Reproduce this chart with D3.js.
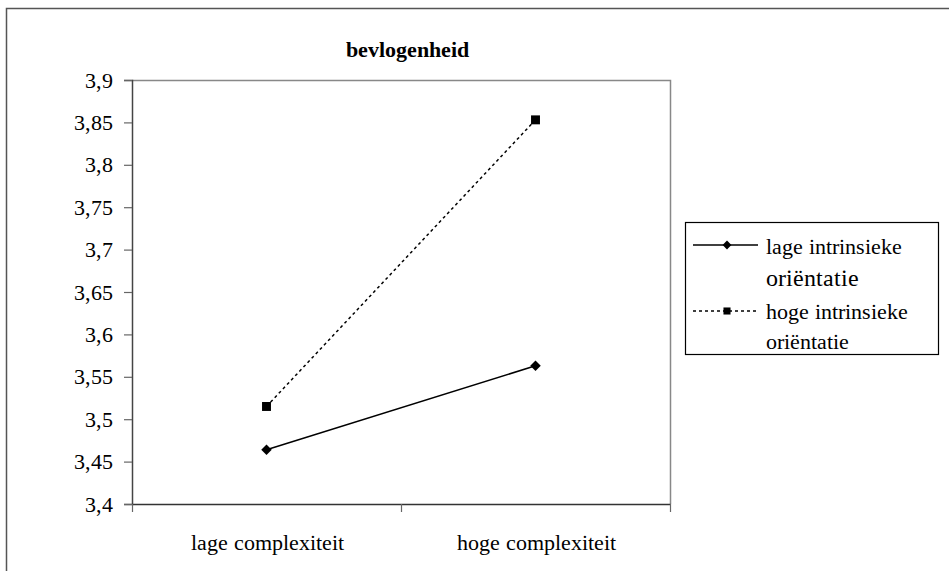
<!DOCTYPE html>
<html>
<head>
<meta charset="utf-8">
<script src="https://cdn.jsdelivr.net/npm/d3@7"></script>
<style>
  @font-face {
    font-family: "ChartSerif";
    src: local("Liberation Serif"), local("LiberationSerif"), local("LiberationSerif-Regular"), local("Times New Roman"), local("DejaVu Serif");
    font-weight: 400;
  }
  @font-face {
    font-family: "ChartSerif";
    src: local("Liberation Serif Bold"), local("LiberationSerif-Bold");
    font-weight: 700;
  }
  body { margin: 0; background: #fff; }
</style>
</head>
<body>
<div id="grafico"></div>
<script>
const categories = ["lage complexiteit", "hoge complexiteit"];
const lageIntrinsiek = [3.464, 3.563];
const hogeIntrinsiek = [3.515, 3.853];
const seriesNames = [["lage intrinsieke", "oriëntatie"], ["hoge intrinsieke", "oriëntatie"]];
const yTicks = [3.4, 3.45, 3.5, 3.55, 3.6, 3.65, 3.7, 3.75, 3.8, 3.85, 3.9];
const title = "bevlogenheid";

const width = 949, height = 571;
const plotLeft = 132, plotRight = 670, plotTop = 80, plotBottom = 504;
const serif = 'ChartSerif, Liberation Serif, Tinos, DejaVu Serif, serif';

const svg = d3.select('#grafico')
  .append('svg')
  .attr('width', width)
  .attr('height', height)
  .attr('font-family', serif);

// buitenrand
svg.append('rect')
  .attr('x', 6.5).attr('y', 8.5)
  .attr('width', 960).attr('height', 580)
  .attr('fill', 'none').attr('stroke', '#555').attr('stroke-width', 1.5);

const yScale = d3.scaleLinear()
  .domain([3.4, 3.9])
  .range([plotBottom, plotTop]);

const xScale = d3.scalePoint()
  .domain(categories)
  .range([plotLeft, plotRight])
  .padding(0.5);

// vakken voor de tickstreepjes op de x-as
const xEdges = d3.scaleLinear().domain([0, categories.length]).range([plotLeft, plotRight]);

// plotgebied rand (boven en rechts grijs)
svg.append('path')
  .attr('d', `M${plotLeft},${plotTop + 0.5}H${plotRight + 0.5}V${plotBottom}`)
  .attr('fill', 'none').attr('stroke', '#888').attr('stroke-width', 1.5);

const fmt = d => String(+d.toFixed(2)).replace('.', ',');

const yAxis = svg.append('g')
  .attr('transform', `translate(${plotLeft}, 0)`)
  .call(d3.axisLeft(yScale).tickValues(yTicks).tickFormat(fmt).tickSize(8).tickPadding(11))
  .attr('font-family', serif).attr('font-size', 22);
yAxis.select('.domain').attr('stroke', '#444').attr('stroke-width', 1.5);
yAxis.selectAll('.tick line').attr('stroke', '#666').attr('stroke-width', 1.2);
yAxis.selectAll('text').attr('fill', '#000');

const xTicks = svg.append('g')
  .attr('transform', `translate(0, ${plotBottom})`)
  .call(d3.axisBottom(xEdges).tickValues(d3.range(categories.length + 1)).tickFormat('').tickSize(8).tickSizeOuter(0));
xTicks.select('.domain').attr('stroke', '#333').attr('stroke-width', 1.5);
xTicks.selectAll('.tick line').attr('stroke', '#666').attr('stroke-width', 1.2);

const xLabels = svg.append('g')
  .attr('transform', `translate(0, ${plotBottom})`)
  .call(d3.axisBottom(xScale).tickSize(0).tickPadding(30))
  .attr('font-family', serif).attr('font-size', 22);
xLabels.select('.domain').remove();
xLabels.selectAll('text').attr('fill', '#000');

svg.append('text')
  .attr('x', 407).attr('y', 57)
  .attr('text-anchor', 'middle')
  .attr('font-size', 22).attr('font-weight', 'bold')
  .text(title);

const line = d3.line()
  .x((d, i) => xScale(categories[i]))
  .y(d => yScale(d));

svg.append('path')
  .datum(lageIntrinsiek)
  .attr('d', line)
  .attr('fill', 'none').attr('stroke', '#000').attr('stroke-width', 1.5);

svg.append('path')
  .datum(hogeIntrinsiek)
  .attr('d', line)
  .attr('fill', 'none').attr('stroke', '#000').attr('stroke-width', 1.5)
  .attr('stroke-dasharray', '3,3');

const diamond = d3.symbol().type(d3.symbolDiamond2).size(70);
const square = d3.symbol().type(d3.symbolSquare).size(80);

svg.selectAll('.m1')
  .data(lageIntrinsiek)
  .enter()
  .append('path')
  .attr('class', 'm1')
  .attr('d', diamond)
  .attr('transform', (d, i) => `translate(${xScale(categories[i])}, ${yScale(d)})`)
  .attr('fill', '#000');

svg.selectAll('.m2')
  .data(hogeIntrinsiek)
  .enter()
  .append('path')
  .attr('class', 'm2')
  .attr('d', square)
  .attr('transform', (d, i) => `translate(${xScale(categories[i])}, ${yScale(d)})`)
  .attr('fill', '#000');

// legenda
const legend = svg.append('g');
legend.append('rect')
  .attr('x', 685.5).attr('y', 222.5)
  .attr('width', 253).attr('height', 132)
  .attr('fill', '#fff').attr('stroke', '#000').attr('stroke-width', 1.2);

const legendSymbols = [d3.symbol().type(d3.symbolDiamond2).size(50), d3.symbol().type(d3.symbolSquare).size(50)];
const legendRows = [
  { y: 245, dash: null, base: [254, 286], sizes: [22, 24] },
  { y: 311, dash: '3,3', base: [319, 349], sizes: [22, 22] }
];
legendRows.forEach((r, k) => {
  legend.append('line')
    .attr('x1', 693).attr('x2', 758).attr('y1', r.y).attr('y2', r.y)
    .attr('stroke', '#000').attr('stroke-width', 1.5)
    .attr('stroke-dasharray', r.dash);
  legend.append('path')
    .attr('d', legendSymbols[k])
    .attr('transform', `translate(727, ${r.y})`)
    .attr('fill', '#000');
  seriesNames[k].forEach((t, i) => {
    legend.append('text')
      .attr('x', 766).attr('y', r.base[i])
      .attr('font-size', r.sizes[i])
      .text(t);
  });
});
</script>
</body>
</html>
